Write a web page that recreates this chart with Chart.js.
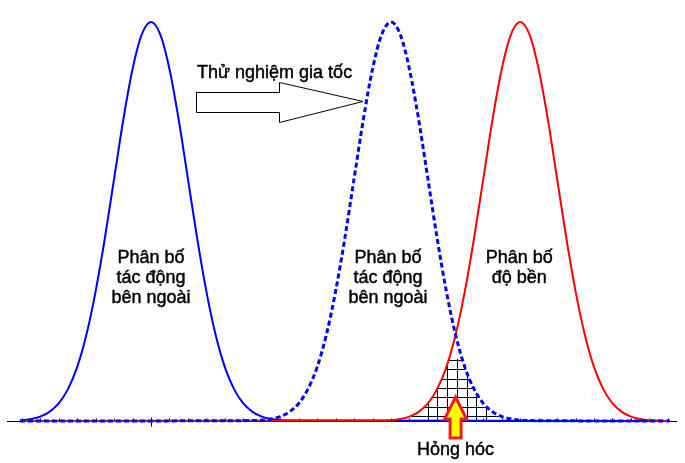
<!DOCTYPE html>
<html><head><meta charset="utf-8">
<script src="https://cdn.jsdelivr.net/npm/chart.js@4"></script>
<style>html,body{margin:0;padding:0;background:#fff}#c{display:block}</style>
</head><body>
<canvas id="c" width="685" height="463"></canvas>
<script>
// Left curve: external stress distribution (solid blue)
const stressX = [-1.42,-1.3,-1.2,-1.1,-1.0,-0.9,-0.8,-0.7,-0.6,-0.5,-0.4,-0.3,-0.2,-0.1,0,0.1,0.2,0.3,0.4,0.5,0.6,0.7,0.8,0.9,1.0,1.1,1.2,1.3,1.5,5.62];
const stressY = [0.001,0.005,0.011,0.023,0.044,0.080,0.135,0.216,0.325,0.458,0.607,0.755,0.882,0.969,1,0.969,0.882,0.755,0.607,0.458,0.325,0.216,0.135,0.080,0.044,0.023,0.011,0.005,0.001,0];
// Middle curve: accelerated stress distribution (dashed blue)
const accelX = [-1.42,1.1,1.2,1.3,1.4,1.5,1.6,1.7,1.8,1.9,2.0,2.1,2.2,2.3,2.4,2.5,2.6,2.7,2.8,2.9,3.0,3.1,3.2,3.3,3.4,3.5,3.6,3.7,3.8,3.9,4.0,4.1,5.62];
const accelY = [0,0.001,0.002,0.005,0.011,0.023,0.044,0.080,0.135,0.216,0.325,0.458,0.607,0.755,0.882,0.969,1,0.969,0.882,0.755,0.607,0.458,0.325,0.216,0.135,0.080,0.044,0.023,0.011,0.005,0.002,0.001,0];
// Right curve: strength distribution (red)
const strengthX = [-1.42,2.5,2.6,2.7,2.8,2.9,3.0,3.1,3.2,3.3,3.4,3.5,3.6,3.7,3.8,3.9,4.0,4.1,4.2,4.3,4.4,4.5,4.6,4.7,4.8,4.9,5.0,5.1,5.2,5.3,5.4,5.5,5.62];
const strengthY = [0,0.001,0.002,0.005,0.011,0.023,0.044,0.080,0.135,0.216,0.325,0.458,0.607,0.755,0.882,0.969,1,0.969,0.882,0.755,0.607,0.458,0.325,0.216,0.135,0.080,0.044,0.023,0.011,0.005,0.002,0.001,0];

const means = [0, 2.6, 4.0];
const labelStress = ['Phân bố', 'tác động', 'bên ngoài'];
const labelStrength = ['Phân bố', 'độ bền'];
const labelAccel = 'Thử nghiệm gia tốc';
const labelFail = 'Hỏng hóc';

const pts = (xs, ys) => xs.map((v, i) => ({x: v, y: ys[i]}));
const FONT = '18px "Liberation Sans", Arial, sans-serif';

const annot = {
  id: 'annot',
  beforeDatasetsDraw(chart) {
    const {ctx, scales: {x, y}} = chart;
    const base = y.getPixelForValue(0);
    const ay = Math.round(base) + 0.5;
    ctx.save();
    ctx.strokeStyle = '#000';
    ctx.lineWidth = 1;
    ctx.beginPath();
    ctx.moveTo(x.getPixelForValue(-1.56), ay);
    ctx.lineTo(x.getPixelForValue(5.70), ay);
    for (let k = -7; k <= 28; k++) {
      const px = Math.round(x.getPixelForValue(k * 0.2)) + 0.5;
      if (k === 0) { ctx.moveTo(px, ay - 4); ctx.lineTo(px, ay + 5); }
      else { ctx.moveTo(px, ay - 3); ctx.lineTo(px, ay); }
    }
    ctx.stroke();

    // hollow arrow
    ctx.beginPath();
    ctx.moveTo(196.5, 92.5); ctx.lineTo(279.5, 92.5); ctx.lineTo(279.5, 82.5);
    ctx.lineTo(363, 101.5); ctx.lineTo(279.5, 122.5); ctx.lineTo(279.5, 112.5);
    ctx.lineTo(196.5, 112.5); ctx.closePath();
    ctx.fillStyle = '#fff'; ctx.fill(); ctx.stroke();

    // hatch region under min(strength, accelerated)
    const trace = (idx) => {
      const d = chart.getDatasetMeta(idx).data;
      ctx.beginPath();
      ctx.moveTo(d[0].x, base);
      d.forEach(p => ctx.lineTo(p.x, p.y));
      ctx.lineTo(d[d.length - 1].x, base);
      ctx.closePath();
      ctx.clip();
    };
    ctx.save();
    trace(0); trace(1);
    ctx.beginPath(); ctx.rect(0, 359, 685, base - 359 + 0.5); ctx.clip();
    ctx.beginPath();
    for (let k = 0; k < 7; k++) {
      const vx = Math.round(427.5 + 9.75 * k) + 0.5;
      ctx.moveTo(vx, 340); ctx.lineTo(vx, base);
      const hy = Math.round(416 - 9.33 * k) + 0.5;
      ctx.moveTo(400, hy); ctx.lineTo(510, hy);
    }
    ctx.strokeStyle = '#000'; ctx.lineWidth = 1; ctx.stroke();
    ctx.restore();
    ctx.restore();
  },
  afterDatasetsDraw(chart) {
    const {ctx, scales: {x}} = chart;
    ctx.save();
    // failure arrow
    const cx = x.getPixelForValue((means[1] + means[2]) / 2);
    ctx.beginPath();
    ctx.moveTo(cx, 397); ctx.lineTo(cx + 11, 419); ctx.lineTo(cx + 5.5, 419);
    ctx.lineTo(cx + 5.5, 438); ctx.lineTo(cx - 5.5, 438); ctx.lineTo(cx - 5.5, 419);
    ctx.lineTo(cx - 11, 419); ctx.closePath();
    ctx.fillStyle = '#ffff00'; ctx.fill();
    ctx.lineWidth = 3; ctx.lineJoin = 'miter'; ctx.strokeStyle = '#f01e1e'; ctx.stroke();

    ctx.fillStyle = '#000';
    ctx.strokeStyle = '#000';
    ctx.lineWidth = 0.45;
    ctx.lineJoin = 'round';
    ctx.font = FONT;
    ctx.textBaseline = 'alphabetic';
    const put = (t, px, py) => { ctx.fillText(t, px, py); ctx.strokeText(t, px, py); };
    ctx.textAlign = 'left';
    put(labelAccel, 197, 77.5);
    ctx.textAlign = 'center';
    put(labelFail, cx, 455);
    const rows = [262.5, 282.5, 302.5];
    labelStress.forEach((t, i) => {
      put(t, x.getPixelForValue(means[0]), rows[i]);
      put(t, x.getPixelForValue(means[1]) - 3, rows[i]);
    });
    labelStrength.forEach((t, i) => put(t, x.getPixelForValue(means[2]) - 1, rows[i]));
    ctx.restore();
  }
};

new Chart(document.getElementById('c'), {
  type: 'line',
  data: {
    datasets: [
      {label: 'strength', data: pts(strengthX, strengthY), borderColor: '#ff0000', borderWidth: 2, order: 1},
      {label: 'accelerated', data: pts(accelX, accelY), borderColor: '#0000ff', borderWidth: 3, borderDash: [5, 3], order: 0},
      {label: 'stress', data: pts(stressX, stressY), borderColor: '#0000ff', borderWidth: 2, order: 2}
    ]
  },
  options: {
    responsive: false,
    animation: false,
    devicePixelRatio: 1,
    layout: {padding: 0},
    elements: {point: {radius: 0}, line: {cubicInterpolationMode: 'monotone', fill: false}},
    plugins: {legend: {display: false}, tooltip: {enabled: false}, title: {display: false}},
    scales: {
      x: {type: 'linear', min: -1.636, max: 5.7855, display: false},
      y: {type: 'linear', min: -0.10526, max: 1.05514, display: false}
    }
  },
  plugins: [annot]
});
</script>
</body></html>
